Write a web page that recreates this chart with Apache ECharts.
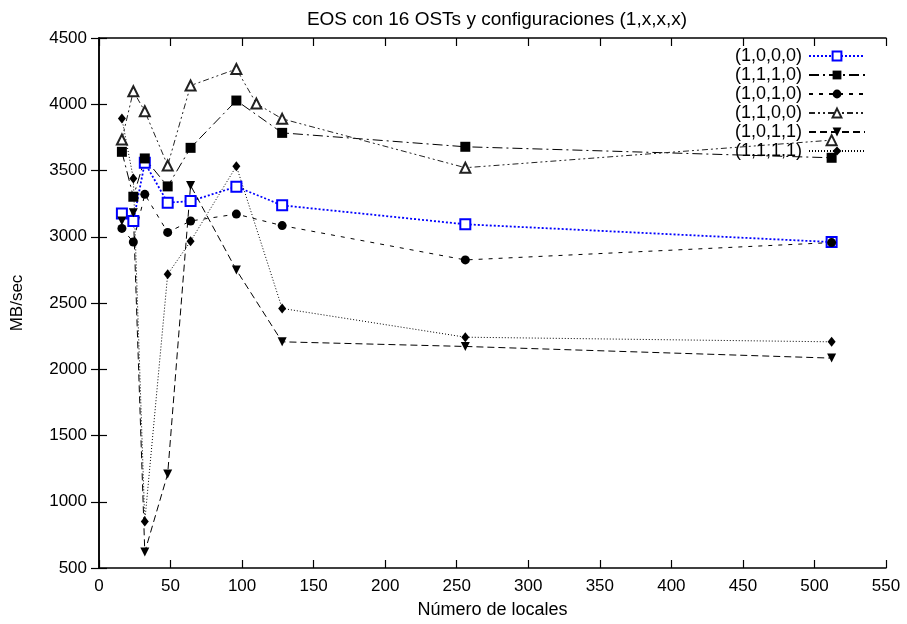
<!DOCTYPE html>
<html>
<head>
<meta charset="utf-8">
<script src="https://cdn.jsdelivr.net/npm/echarts@6/dist/echarts.min.js"></script>
<style>
  html, body { margin: 0; padding: 0; background: #fff; }
  #chart { width: 907px; height: 624px; }
</style>
</head>
<body>
<div id="chart"></div>
<script>
const xLocales = [16, 24, 32, 48, 64, 96, 128, 256, 512]
const xLocalesExtra = [16, 24, 32, 48, 64, 96, 110, 128, 256, 512]

const s1000 = [3176, 3119, 3558, 3257, 3269, 3378, 3237, 3094, 2960]
const s1110 = [3641, 3302, 3591, 3380, 3671, 4028, 3784, 3679, 3596]
const s1010 = [3063, 2960, 3320, 3033, 3119, 3171, 3084, 2825, 2956]
const s1100 = [3734, 4098, 3947, 3538, 4141, 4266, 4005, 3890, 3521, 3729]
const s1011 = [3119, 3182, 621, 1210, 3387, 2749, 2207, 2172, 2084]
const s1111 = [3892, 3440, 851, 2717, 2966, 3533, 2459, 2242, 2207]

const font = "'Liberation Sans', Arial, Helvetica, sans-serif"

const pairs = (xs, ys) => ys.map((v, i) => [xs[i], v])

const mkSeries = (name, xs, ys, opts) => ({
  name,
  type: 'line',
  data: pairs(xs, ys),
  symbol: opts.symbol,
  symbolSize: opts.size,
  symbolRotate: opts.rotate || 0,
  lineStyle: { color: opts.color || '#000', width: opts.width || 1, type: opts.dash },
  itemStyle: {
    color: opts.color || '#000',
    borderColor: opts.color || '#000',
    borderWidth: opts.border || 0,
  },
  emphasis: { disabled: true },
})

const series = [
  mkSeries('(1,0,0,0)', xLocales, s1000, { symbol: 'emptyRect', size: 10, color: '#0000ff', width: 1.8, dash: [2, 2], border: 2 }),
  mkSeries('(1,1,1,0)', xLocales, s1110, { symbol: 'rect', size: 10, dash: [10, 4, 2, 4] }),
  mkSeries('(1,0,1,0)', xLocales, s1010, { symbol: 'circle', size: 9, dash: [4, 6] }),
  mkSeries('(1,1,0,0)', xLocalesExtra, s1100, { symbol: 'emptyTriangle', size: 10, color: '#222', dash: [6, 3, 2, 3, 2, 3], border: 1 }),
  mkSeries('(1,0,1,1)', xLocales, s1011, { symbol: 'triangle', size: 9, rotate: 180, dash: [7, 4] }),
  mkSeries('(1,1,1,1)', xLocales, s1111, { symbol: 'diamond', size: [8, 10], dash: [1, 2] }),
]

const axisBase = {
  min: 0,
  axisLine: { lineStyle: { color: '#000', width: 1.5 } },
  axisTick: { inside: true, length: 8, lineStyle: { color: '#000', width: 1.2 } },
  splitLine: { show: false },
}

const chart = echarts.init(document.getElementById('chart'))
chart.setOption({
  animation: false,
  textStyle: { fontFamily: font },
  title: {
    text: 'EOS con 16 OSTs y configuraciones (1,x,x,x)',
    left: 492,
    textAlign: 'center',
    top: 5,
    textStyle: { fontFamily: font, fontSize: 19, fontWeight: 'normal', color: '#000' },
  },
  grid: { left: 99, right: 21, top: 38, bottom: 55, containLabel: false },
  legend: {
    orient: 'vertical',
    right: 41,
    top: 47,
    align: 'right',
    itemWidth: 56,
    itemHeight: 11,
    itemGap: 1,
    padding: 0,
    textStyle: { fontFamily: font, fontSize: 18, color: '#000', lineHeight: 16.5, padding: [0, 2, 0, 0] },
    data: series.map((s) => s.name),
  },
  xAxis: [
    {
      ...axisBase,
      type: 'value',
      max: 550,
      interval: 50,
      name: 'Número de locales',
      nameLocation: 'middle',
      nameGap: 33,
      nameTextStyle: { fontFamily: font, fontSize: 18, color: '#000' },
      axisLabel: { color: '#000', fontSize: 17, margin: 10, fontFamily: font, formatter: (v) => String(v) },
    },
    {
      ...axisBase,
      type: 'value',
      position: 'top',
      max: 550,
      interval: 50,
      axisLabel: { show: false },
    },
  ],
  yAxis: [
    {
      ...axisBase,
      type: 'value',
      min: 500,
      max: 4500,
      interval: 500,
      name: 'MB/sec',
      nameLocation: 'middle',
      nameGap: 73,
      nameTextStyle: { fontFamily: font, fontSize: 17, color: '#000' },
      axisLabel: { color: '#000', fontSize: 17, margin: 12, fontFamily: font, formatter: (v) => String(v) },
    },
    {
      ...axisBase,
      type: 'value',
      position: 'right',
      min: 500,
      max: 4500,
      interval: 500,
      axisLabel: { show: false },
    },
  ],
  series,
})
</script>
</body>
</html>
